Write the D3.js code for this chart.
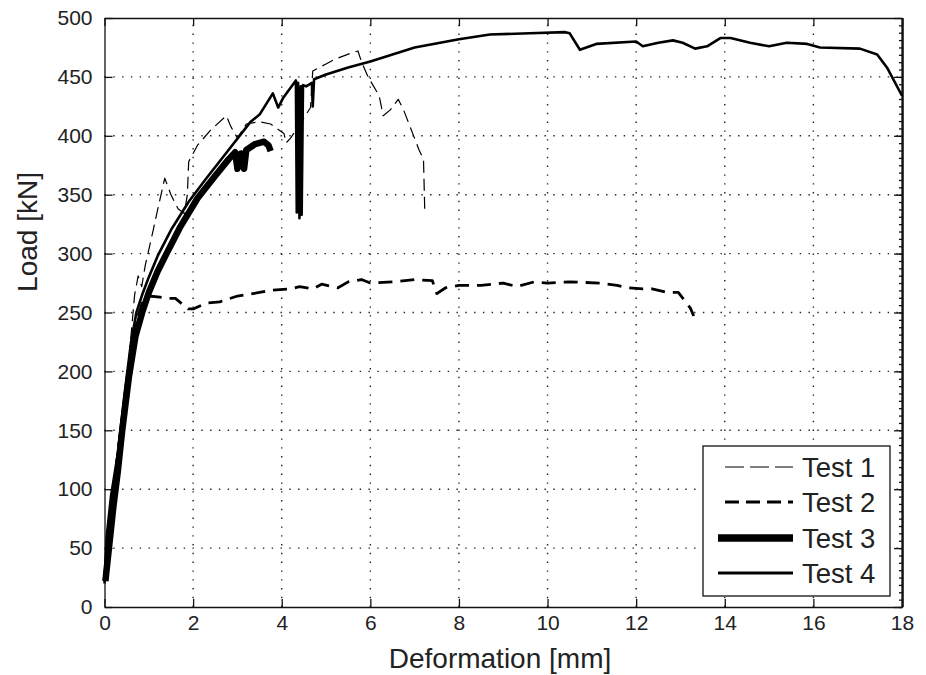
<!DOCTYPE html>
<html>
<head>
<meta charset="utf-8">
<script src="https://cdn.jsdelivr.net/npm/d3@7"></script>
<style>
  body { margin: 0; background: #fff; }
  svg { display: block; font-family: "Liberation Sans", Arial, sans-serif; }
</style>
</head>
<body>
<svg width="926" height="675"></svg>
<script>
var xTicks = [0, 2, 4, 6, 8, 10, 12, 14, 16, 18]
var yTicks = [0, 50, 100, 150, 200, 250, 300, 350, 400, 450, 500]
var seriesNames = ['Test 1', 'Test 2', 'Test 3', 'Test 4']

// [deformation mm, load kN]
var test1 = [[0,30],[0.15,90],[0.35,150],[0.55,210],[0.68,265],[0.76,281],[0.84,272],[0.92,290],[1.1,320],[1.18,334],[1.36,364],[1.5,350],[1.66,338],[1.8,334],[1.87,350],[1.9,378],[2.1,392],[2.4,405],[2.75,417],[2.85,408],[3.0,398],[3.2,410],[3.5,412],[3.75,410],[4.05,402],[4.1,394],[4.2,398],[4.45,412],[4.65,424],[4.7,455],[5.0,461],[5.2,465],[5.55,470],[5.72,472],[5.8,463],[5.95,450],[6.2,434],[6.29,417],[6.45,422],[6.63,431],[6.75,422],[7.1,388],[7.2,380],[7.23,334]]
var test2 = [[0,25],[0.15,80],[0.3,130],[0.5,190],[0.7,240],[0.85,258],[1.0,264],[1.25,263],[1.45,262],[1.6,262],[1.89,253],[2.0,253],[2.3,258],[2.6,259],[3.0,264],[3.5,267],[3.8,269],[4.2,270],[4.4,272],[4.7,270],[4.9,274],[5.27,271],[5.5,276],[5.8,278],[6.0,275],[6.5,276],[7.0,278],[7.4,277],[7.5,266],[7.7,271],[8.0,273],[8.5,273],[9.0,275],[9.3,272],[9.7,276],[10.0,275],[10.5,276],[11.18,275],[11.57,273],[11.8,271],[12.15,270],[12.36,270],[12.72,267],[12.95,267],[13.22,254],[13.3,247]]
var test3 = [[0.02,22],[0.1,50],[0.2,85],[0.3,115],[0.4,150],[0.55,195],[0.7,230],[0.85,250],[1.0,267],[1.2,285],[1.4,300],[1.7,322],[2.1,347],[2.5,366],[2.8,380],[2.95,386],[3.0,372],[3.08,385],[3.15,372],[3.2,388],[3.4,393],[3.6,395],[3.7,392],[3.75,387]]
var test4 = [[0,20],[0.05,60],[0.15,95],[0.3,130],[0.45,180],[0.6,225],[0.72,250],[0.85,265],[1.0,280],[1.2,298],[1.5,320],[1.9,344],[2.3,364],[2.8,388],[3.3,412],[3.5,418],[3.8,436],[3.92,424],[4.03,432],[4.32,447],[4.34,335],[4.37,445],[4.4,330],[4.43,442],[4.45,333],[4.48,443],[4.55,442],[4.68,445],[4.7,425],[4.73,448],[5.0,452],[5.5,458],[6.0,463],[7.0,475],[8.0,482],[8.7,486],[9.6,487],[10.4,488],[10.5,487],[10.73,473],[11.1,478],[12.0,480],[12.15,476],[12.5,479],[12.83,481],[13.05,479],[13.33,474],[13.6,476],[13.9,483],[14.13,483],[14.57,479],[15.0,476],[15.4,479],[15.86,478],[16.15,475],[17.05,474],[17.44,469],[17.66,458],[18.0,434]]

var styles = [
  {w: 1.2, dash: '12,6'},
  {w: 2.8, dash: '14,8'},
  {w: 6.5, dash: null},
  {w: 2.6, dash: null}
]

var svg = d3.select('svg')
var pLeft = 104.5, pRight = 902, pTop = 18, pBottom = 607

var x = d3.scaleLinear().domain([0, 18]).range([pLeft, pRight])
var y = d3.scaleLinear().domain([0, 500]).range([pBottom, pTop])

// grid
var grid = svg.append('g').attr('stroke', '#222').attr('stroke-width', 1.4).attr('stroke-dasharray', '1.4,7.4')
grid.selectAll('.gx').data(xTicks.slice(1, -1)).enter().append('line')
  .attr('x1', d => x(d)).attr('x2', d => x(d)).attr('y1', pBottom).attr('y2', pTop)
grid.selectAll('.gy').data(yTicks.slice(1, -1)).enter().append('line')
  .attr('x1', pLeft).attr('x2', pRight).attr('y1', d => y(d)).attr('y2', d => y(d))

// axes (ticks inward)
svg.append('g').attr('transform', 'translate(0,' + pBottom + ')')
  .call(d3.axisBottom(x).tickValues(xTicks).tickSizeInner(-8).tickSizeOuter(0).tickPadding(8))
svg.append('g').attr('transform', 'translate(0,' + pTop + ')')
  .call(d3.axisTop(x).tickValues(xTicks).tickSizeInner(-8).tickSizeOuter(0).tickFormat(''))
svg.append('g').attr('transform', 'translate(' + pLeft + ',0)')
  .call(d3.axisLeft(y).tickValues(yTicks).tickSizeInner(-8).tickSizeOuter(0).tickPadding(12))
svg.append('g').attr('transform', 'translate(' + pRight + ',0)')
  .call(d3.axisRight(y).tickValues(yTicks).tickSizeInner(-8).tickSizeOuter(0).tickFormat(''))
svg.append('g').attr('transform', 'translate(' + pRight + ',0)')
  .call(d3.axisRight(y).tickValues(d3.range(0, 500, 6.25)).tickSizeInner(-3).tickSizeOuter(0).tickFormat(''))

svg.selectAll('.domain').attr('stroke', '#111').attr('stroke-width', 1.3)
svg.selectAll('.tick line').attr('stroke', '#111').attr('stroke-width', 1.3)
svg.selectAll('.tick text').style('font-size', '21px').attr('fill', '#222')
  .style('font-family', '"Liberation Sans", Arial, sans-serif')

svg.append('rect').attr('x', pRight - 0.5).attr('y', pTop).attr('width', 2.2).attr('height', pBottom - pTop).attr('fill', '#111')

// curves
var line = d3.line().x(d => x(d[0])).y(d => y(d[1]))
var data = [test1, test2, test3, test4]
var plot = svg.append('g')
plot.selectAll('path.curve').data(data).enter().append('path')
  .attr('class', 'curve')
  .attr('d', line)
  .attr('fill', 'none')
  .attr('stroke', '#000')
  .attr('stroke-linejoin', 'round')
  .attr('stroke-width', (d, i) => styles[i].w)
  .attr('stroke-dasharray', (d, i) => styles[i].dash)

// legend
var lg = svg.append('g')
lg.append('rect').attr('x', 703).attr('y', 446).attr('width', 187).attr('height', 150)
  .attr('fill', '#fff').attr('stroke', '#111').attr('stroke-width', 1.3)
var rows = [467, 502, 538, 573]
var item = lg.selectAll('g.item').data(seriesNames).enter().append('g').attr('class', 'item')
item.append('line')
  .attr('x1', (d, i) => i < 2 ? 725 : 718).attr('x2', 793)
  .attr('y1', (d, i) => rows[i]).attr('y2', (d, i) => rows[i])
  .attr('stroke', '#000')
  .attr('stroke-width', (d, i) => i === 0 ? 1.2 : i === 1 ? 3 : i === 2 ? 7.5 : 2.8)
  .attr('stroke-dasharray', (d, i) => i === 0 ? '19,6' : i === 1 ? '14,7' : null)
item.append('text')
  .attr('x', 802).attr('y', (d, i) => rows[i] + 9.5)
  .attr('font-size', 27.5).attr('fill', '#222')
  .text(d => d)

// axis labels
svg.append('text').attr('x', 500).attr('y', 668).attr('text-anchor', 'middle')
  .attr('font-size', 28).attr('fill', '#222').text('Deformation [mm]')
svg.append('text').attr('transform', 'translate(37,232) rotate(-90)').attr('text-anchor', 'middle')
  .attr('font-size', 28).attr('fill', '#222').text('Load [kN]')
</script>
</body>
</html>
